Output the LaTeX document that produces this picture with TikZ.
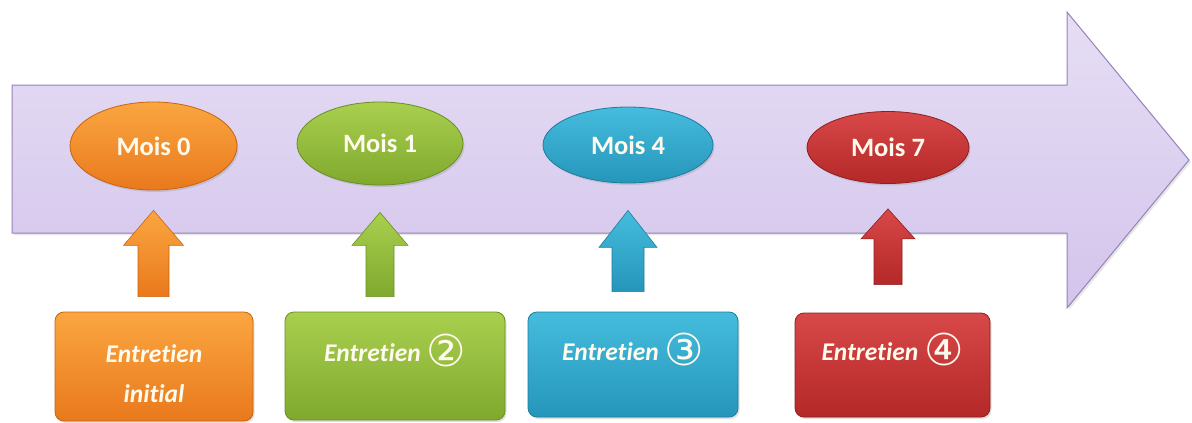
\documentclass[tikz,border=0pt]{standalone}
\usepackage{fontspec}
\setmainfont{Carlito}[RawFeature={-liga;-dlig}]
\newfontfamily\dvfont{DejaVu Sans}
\usetikzlibrary{shapes.geometric,shadows,calc}
\definecolor{arrfillT}{HTML}{E6DEF4}
\definecolor{arrfillB}{HTML}{D3C4EC}
\definecolor{arrline}{HTML}{9484B6}
\definecolor{orT}{HTML}{FAA640}
\definecolor{orB}{HTML}{E9791C}
\definecolor{orD}{HTML}{C86410}
\definecolor{grT}{HTML}{A9CF4E}
\definecolor{grB}{HTML}{7FA92E}
\definecolor{grD}{HTML}{6A8E24}
\definecolor{blT}{HTML}{45BCDD}
\definecolor{blB}{HTML}{2596BA}
\definecolor{blD}{HTML}{1D7D9C}
\definecolor{rdT}{HTML}{D84848}
\definecolor{rdB}{HTML}{B42828}
\definecolor{rdD}{HTML}{8E1E1E}
\definecolor{txt}{HTML}{FFFAEE}
\newcommand\circnum[1]{{\upshape\mdseries\dvfont\fontsize{44}{44}\selectfont\raisebox{-5pt}{#1}}}
\newcommand\upblock[8]{%
  \path[#8] let \p1=(#1.south), \p2=(#2.north) in
    (\x1,\y1-#3) -- (\x1+#5,\y1-#3-#4) -- (\x1+#6,\y1-#3-#4) -- (\x1+#6,\y2+#7)
    -- (\x1-#6,\y2+#7) -- (\x1-#6,\y1-#3-#4) -- (\x1-#5,\y1-#3-#4) -- cycle;}
\tikzset{
  x=1pt, y=-1pt,
  month/.style={ellipse, inner sep=0pt, text=txt, line width=0.8pt,
    font=\bfseries\fontsize{26.5}{26.5}\selectfont,
    drop shadow={opacity=0.25, shadow xshift=1.5pt, shadow yshift=-2pt}},
  talk/.style={rectangle, rounded corners=9pt, inner sep=0pt, text=txt, align=center,
    text height=20pt, text depth=29pt,
    line width=0.8pt, font=\bfseries\itshape\fontsize{25.5}{40}\selectfont,
    drop shadow={opacity=0.25, shadow xshift=1.5pt, shadow yshift=-2pt}},
  orangefill/.style={top color=orT, bottom color=orB, draw=orD},
  greenfill/.style={top color=grT, bottom color=grB, draw=grD},
  bluefill/.style={top color=blT, bottom color=blB, draw=blD},
  redfill/.style={top color=rdT, bottom color=rdB, draw=rdD},
}
\begin{document}
\begin{tikzpicture}
\useasboundingbox (0,0) rectangle (1192,423);
% big timeline arrow
\path[top color=arrfillT, bottom color=arrfillB, draw=arrline, line width=1pt,
  drop shadow={opacity=0.2, shadow xshift=2pt, shadow yshift=-2pt}]
  (12,85) -- (1067,85) -- (1067,12) -- (1189,160) -- (1067,308) -- (1067,233) -- (12,233) -- cycle;
% months
\node[month, orangefill, minimum width=167pt, minimum height=88pt] (m0) at (153.5,146) {Mois 0};
\node[month, greenfill,  minimum width=166pt, minimum height=83pt] (m1) at (380,143.5) {Mois 1};
\node[month, bluefill,   minimum width=170pt, minimum height=76pt] (m4) at (628,145) {Mois 4};
\node[month, redfill,    minimum width=162pt, minimum height=72pt] (m7) at (888,147.5) {Mois 7};
% interviews
\node[talk, orangefill, minimum width=198pt, minimum height=109pt, text height=71pt, text depth=0pt] (e1) at (154,366.5) {Entretien\\initial};
\node[talk, greenfill,  minimum width=220pt, minimum height=108pt] (e2) at (395,366) {Entretien \circnum{②}};
\node[talk, bluefill,   minimum width=210pt, minimum height=105pt] (e3) at (633,364.5) {Entretien \circnum{③}};
\node[talk, redfill,    minimum width=195pt, minimum height=104pt] (e4) at (892.5,365) {Entretien \circnum{④}};
% block arrows
\upblock{m0}{e1}{20pt}{35pt}{30pt}{15.5pt}{15pt}{orangefill, line width=0.6pt}
\upblock{m1}{e2}{27pt}{33pt}{28pt}{14pt}{15pt}{greenfill, line width=0.6pt}
\upblock{m4}{e3}{27pt}{37pt}{29pt}{16pt}{20pt}{bluefill, line width=0.6pt}
\upblock{m7}{e4}{25pt}{30pt}{27pt}{14pt}{28pt}{redfill, line width=0.6pt}
\end{tikzpicture}
\end{document}
